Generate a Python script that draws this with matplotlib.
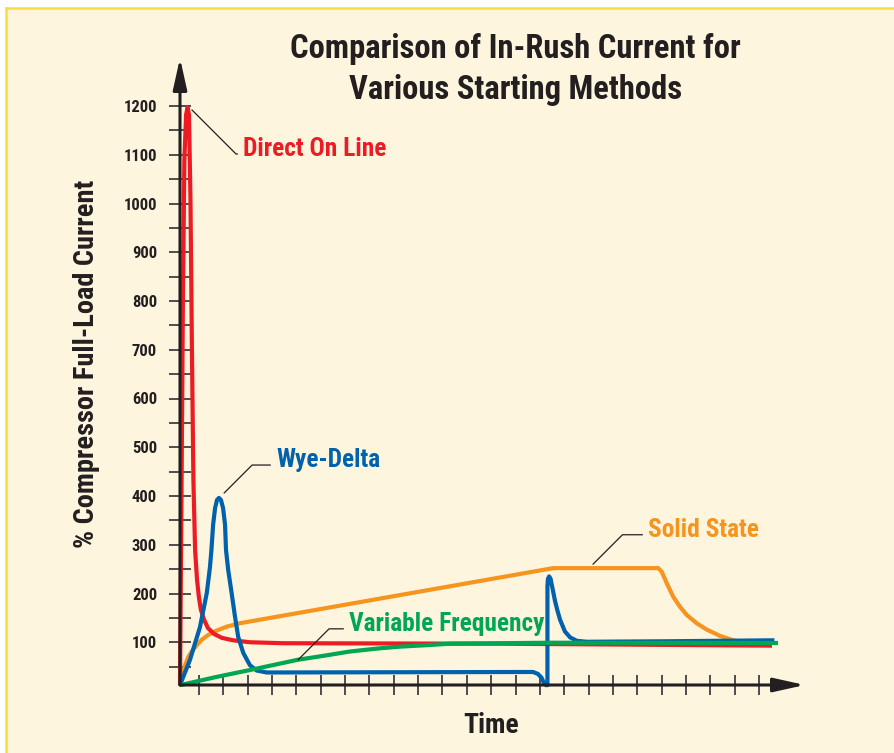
"""Comparison of in-rush current for various compressor starting methods."""
import matplotlib
matplotlib.use("Agg")
import matplotlib.pyplot as plt
from matplotlib.lines import Line2D
from matplotlib.patches import Rectangle

FONT = ["Roboto Condensed", "DejaVu Sans"]
STRETCH = "condensed"
INK = "#231F20"
TICK = "#4D4D4D"
CREAM = "#FEF5DF"
BORDER = "#FDDC3A"

# time in tick units (0 = start), current in % of full-load current
dol_t = [0, 0.06, 0.12, 0.18, 0.25, 0.31, 0.37, 0.43, 0.49, 0.55, 0.62, 0.70,
         0.78, 0.86, 0.99, 1.15, 1.40, 1.72, 2.18, 2.87, 4.23, 13.14, 24.31]
dol_v = [12, 392, 802, 1089, 1182, 1197, 1182, 1007, 699, 433, 289, 228,
         191, 166, 146, 129, 117, 109, 104, 100, 98, 97, 93]

wye_t = [0, 0.41, 0.82, 1.10, 1.23, 1.29, 1.36, 1.44, 1.52, 1.60, 1.68, 1.77,
         1.85, 1.89, 1.98, 2.12, 2.26, 2.39, 2.60, 2.87, 3.15, 3.56, 14.50,
         14.70, 14.85, 14.95, 15.03, 15.09, 15.09, 15.11, 15.16, 15.22, 15.30,
         15.40, 15.50, 15.61, 15.81, 16.02, 16.29, 16.70, 20.0, 24.41]
wye_v = [12, 64, 131, 201, 254, 289, 341, 375, 392, 396, 392, 375,
         341, 289, 248, 201, 152, 111, 78, 53, 42, 38, 39,
         35, 27, 16, 12, 12, 215, 230, 235, 230, 210,
         185, 165, 146, 122, 110, 103, 101, 102, 104]

ss_t = [0, 0.04, 0.11, 0.21, 0.34, 0.48, 0.69, 0.89, 1.16, 1.51, 1.92, 2.46,
        15.32, 19.64, 19.78, 19.99, 20.26, 20.53, 20.81, 21.22, 21.63, 22.18,
        22.72, 23.27, 23.82, 24.31]
ss_v = [12, 19, 37, 53, 70, 81, 94, 105, 115, 124, 132, 139,
        252, 252, 245, 221, 193, 173, 156, 139, 126, 113,
        104, 99, 96, 94]

vf_t = [0, 1.51, 2.87, 4.83, 5.87, 6.98, 8.08, 9.03, 10.13, 11.09, 13.14, 15.20, 24.56]
vf_v = [12, 29, 43, 64, 72, 81, 87, 91, 94, 97, 98, 99, 98.5]

y_major = list(range(100, 1300, 100))
y_minor = list(range(50, 1200, 100))
x_ticks = [0.78 + k for k in range(24)]

# (label, colour, t, v, point on curve, text anchor, leader angle)
SERIES = [
    ("Solid State", "#F7941D", ss_t, ss_v, (16.96, 260), (19.22, 316), 45),
    ("Direct On Line", "#ED1C24", dol_t, dol_v, (0.49, 1192), (2.59, 1097), -45),
    ("Wye-Delta", "#0062AC", wye_t, wye_v, (1.81, 406), (3.94, 459), 45),
    ("Variable Frequency", "#00A651", vf_t, vf_v, (4.85, 64), (6.94, 123), 45),
]

W, H = 894, 753
X0, Y0 = 180, 685          # axis origin in pixels
PX_T, PX_V = 24.35, 0.4875  # pixels per time unit / per percent


def main():
    fig = plt.figure(figsize=(W / 100, H / 100), dpi=100, facecolor="white")
    fig.patches.append(Rectangle((6 / W, 0), 1, 1 - 8 / H, transform=fig.transFigure,
                                 facecolor=CREAM, edgecolor="none", zorder=-5))
    fig.add_artist(Line2D([6 / W, 1], [1 - 8 / H] * 2, transform=fig.transFigure,
                          color=BORDER, lw=1.8, zorder=-4))
    fig.add_artist(Line2D([6 / W] * 2, [0, 1 - 8 / H], transform=fig.transFigure,
                          color=BORDER, lw=1.8, zorder=-4))

    ax = fig.add_axes([X0 / W, (H - Y0) / H, (805 - X0) / W, (Y0 - 58) / H])
    ax.set_facecolor("none")
    ymin = 6 / PX_V
    ax.set_xlim(0, (805 - X0) / PX_T)
    ax.set_ylim(ymin, ymin + (Y0 - 58) / PX_V)
    for s in ax.spines.values():
        s.set_visible(False)

    for label, color, t, v, pt, txt, ang in SERIES:
        ax.plot(t, v, color=color, lw=3, solid_capstyle="butt",
                solid_joinstyle="round", clip_on=False)
    for label, color, t, v, pt, txt, ang in SERIES:
        ax.annotate(label, xy=pt, xytext=txt, color=color, fontsize=18.3,
                    fontweight="bold", family=FONT, fontstretch=STRETCH,
                    ha="left", va="baseline", annotation_clip=False,
                    arrowprops=dict(arrowstyle="-", color=INK, lw=0.9,
                                    shrinkA=2, shrinkB=0, relpos=(0, 0.3),
                                    connectionstyle=f"angle,angleA=0,angleB={ang}"))

    # axes with arrow heads
    style = "-|>,head_length=1.9,head_width=0.42"
    ax.annotate("", xy=(0, ax.get_ylim()[1]), xytext=(0, ymin), annotation_clip=False,
                arrowprops=dict(arrowstyle=style, color=INK, lw=2.2, shrinkA=0,
                                shrinkB=0, mutation_scale=10))
    ax.annotate("", xy=(ax.get_xlim()[1], ymin), xytext=(0, ymin), annotation_clip=False,
                arrowprops=dict(arrowstyle=style, color=INK, lw=2.2, shrinkA=0,
                                shrinkB=0, mutation_scale=10))

    ax.set_yticks(y_major)
    ax.set_yticks(y_minor, minor=True)
    ax.set_yticklabels([str(v) for v in y_major], family=FONT, fontstretch=STRETCH,
                       fontweight="bold", fontsize=12, color=INK)
    ax.tick_params(axis="y", which="both", direction="inout", length=15.8, width=1.4,
                   color=TICK, pad=8.6)
    ax.set_xticks(x_ticks)
    ax.tick_params(axis="x", direction="inout", length=15, width=1.4, color=TICK,
                   labelbottom=False)

    kw = dict(family=FONT, fontstretch=STRETCH, fontweight="bold", color=INK)
    fig.text(515 / W, 1 - 58 / H, "Comparison of In-Rush Current for", ha="center",
             va="baseline", fontsize=23.5, **kw)
    fig.text(516 / W, 1 - 99 / H, "Various Starting Methods", ha="center",
             va="baseline", fontsize=23.5, **kw)
    fig.text(87 / W, 1 - 364 / H, "% Compressor Full-Load Current", rotation=90,
             ha="center", va="center", fontsize=20.4, **kw)
    fig.text(491 / W, 1 - 733 / H, "Time", ha="center", va="baseline", fontsize=20, **kw)

    fig.savefig("out.png", dpi=100, facecolor=fig.get_facecolor())
    plt.close(fig)


if __name__ == "__main__":
    main()
